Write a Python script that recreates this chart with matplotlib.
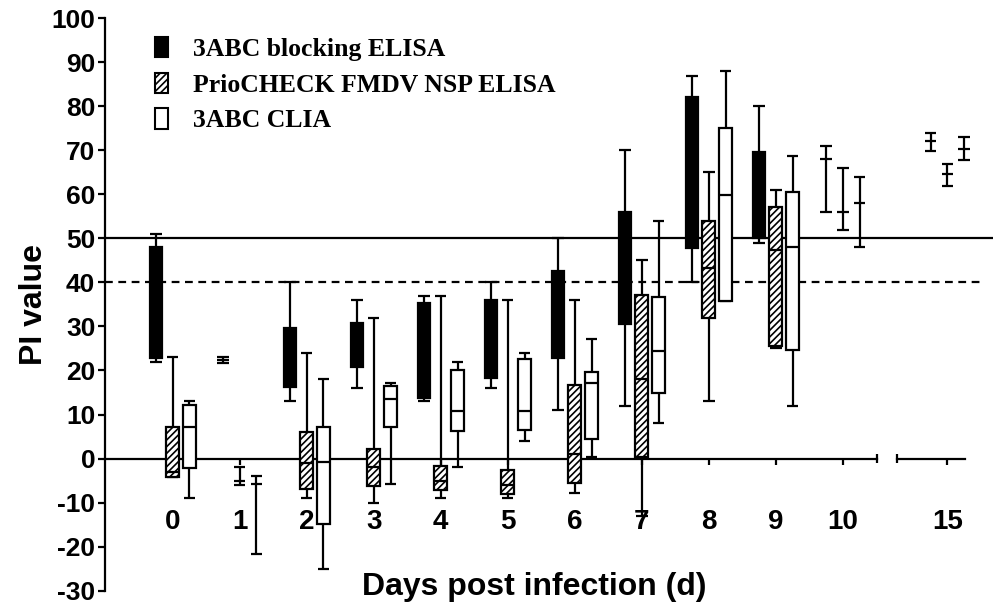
import numpy as np
import matplotlib
matplotlib.use("Agg")
import matplotlib.pyplot as plt
from matplotlib.patches import Patch

nan = np.nan

# days after infection, 15 sits past an axis break
days = ["0", "1", "2", "3", "4", "5", "6", "7", "8", "9", "10", "15"]
xpos = [0, 1, 2, 3, 4, 5, 6, 7, 8, 9, 10, 11.56]

# 3ABC blocking ELISA
blk_lo  = [22.0, 21.8, 13.1, 16.0, 13.1, 16.0, 11.0, 12.0, 40.0, 48.9, 56.0, 69.9]
blk_q1  = [22.8, nan, 16.3, 20.9, 13.7, 18.4, 22.9, 30.5, 47.8, 50.0, nan, nan]
blk_med = [35.0, 22.4, 23.0, 26.0, 25.0, 27.0, 33.0, 43.0, 65.0, 60.0, 68.0, 72.2]
blk_q3  = [48.1, nan, 29.7, 30.7, 35.4, 36.0, 42.6, 56.1, 82.1, 69.6, nan, nan]
blk_hi  = [51.0, 23.0, 40.0, 36.0, 37.0, 40.2, 50.0, 70.0, 87.0, 80.0, 71.0, 73.9]

# PrioCHECK FMDV NSP ELISA
pri_lo  = [-4.1, -6.1, -8.9, -10.0, -8.9, -8.9, -7.9, -13.0, 13.1, 25.0, 51.9, 61.9]
pri_q1  = [-4.1, nan, -7.0, -6.3, -7.2, -8.1, -5.5, 0.4, 31.9, 25.6, nan, nan]
pri_med = [-3.0, -5.2, -1.0, -2.0, -5.0, -6.0, 1.0, 18.1, 43.2, 47.4, 56.0, 64.6]
pri_q3  = [7.2, nan, 6.1, 2.2, -1.6, -2.5, 16.7, 37.2, 54.0, 57.2, nan, nan]
pri_hi  = [23.1, -1.9, 24.0, 32.0, 37.0, 36.0, 36.0, 45.1, 65.0, 61.0, 66.0, 66.9]

# 3ABC CLIA
cl_lo  = [-8.9, -21.8, -25.0, -5.9, -1.9, 4.0, 0.3, 8.0, 35.9, 12.0, 48.1, 67.8]
cl_q1  = [-2.1, nan, -14.9, 7.2, 6.2, 6.5, 4.4, 14.8, 35.9, 24.7, nan, nan]
cl_med = [7.1, -5.9, -0.7, 13.5, 10.9, 10.9, 17.1, 24.4, 59.9, 48.1, 58.0, 70.3]
cl_q3  = [12.2, nan, 7.1, 16.5, 20.1, 22.5, 19.6, 36.6, 75.0, 60.6, nan, nan]
cl_hi  = [13.1, -4.0, 18.0, 17.1, 22.0, 24.0, 27.1, 54.0, 88.0, 68.8, 63.9, 73.0]

labels = ["3ABC blocking ELISA", "PrioCHECK FMDV NSP ELISA", "3ABC CLIA"]
cutoff_3abc = 50
cutoff_prio = 40

plt.rcParams['font.family'] = ['Liberation Sans', 'DejaVu Sans']
plt.rcParams['font.weight'] = 'bold'
plt.rcParams['axes.unicode_minus'] = False
plt.rcParams['hatch.linewidth'] = 1.2

fig = plt.figure(figsize=(10, 6.12), dpi=100)
ax = fig.add_axes([0.105, 0.035, 0.888, 0.935])
ax.set_xlim(-1.01, 12.24)
ax.set_ylim(-30, 100)

LW = 1.6
W = 0.19
CAP = 0.17


def draw(off, lo, q1, med, q3, hi, face, hatch):
    for i, x0 in enumerate(xpos):
        x = x0 + off
        ax.vlines(x, lo[i], hi[i], color='black', lw=LW, zorder=2)
        ax.hlines([lo[i], hi[i]], x - CAP / 2, x + CAP / 2, color='black', lw=LW, zorder=2)
        if np.isnan(q1[i]):
            ax.hlines(med[i], x - CAP / 2, x + CAP / 2, color='black', lw=LW, zorder=2)
        else:
            ax.bar(x, q3[i] - q1[i], bottom=q1[i], width=W, color=face,
                   edgecolor='black', lw=LW, hatch=hatch, zorder=3)
            ax.hlines(med[i], x - W / 2, x + W / 2, color='black', lw=LW, zorder=4)


draw(-0.25, blk_lo, blk_q1, blk_med, blk_q3, blk_hi, 'black', None)
draw(0.0, pri_lo, pri_q1, pri_med, pri_q3, pri_hi, 'white', '/////')
draw(0.25, cl_lo, cl_q1, cl_med, cl_q3, cl_hi, 'white', None)

# cut-off lines
ax.axhline(cutoff_3abc, color='black', lw=1.6, zorder=1)
ax.plot([-1.01, 12.12], [cutoff_prio, cutoff_prio], color='black', lw=1.6,
        ls=(0, (3.5, 2.5)), zorder=1, clip_on=False)

# broken x axis at y = 0
brk1, brk2, xend = 10.51, 10.81, 11.82
ax.plot([-1.01, brk1], [0, 0], color='black', lw=1.6, zorder=1, clip_on=False)
ax.plot([brk2, xend], [0, 0], color='black', lw=1.6, zorder=1)
ax.vlines([brk1, brk2], -1.0, 1.0, color='black', lw=1.6)

for s in ['top', 'right']:
    ax.spines[s].set_visible(False)
ax.spines['left'].set_linewidth(1.6)
ax.spines['bottom'].set_position(('data', 0))
ax.spines['bottom'].set_visible(False)

ax.set_yticks(np.arange(-30, 101, 10))
ax.tick_params(axis='y', labelsize=19, width=1.6, length=5, pad=2)
ax.set_xticks(xpos)
ax.set_xticklabels(days)
ax.tick_params(axis='x', labelsize=20, width=1.6, length=4, pad=32)

ax.set_ylabel("PI value", fontsize=23, fontweight='bold', labelpad=2)
ax.text(5.39, -31.0, "Days post infection (d)", fontsize=23, fontweight='bold',
        ha='center', va='baseline', clip_on=False)

handles = [Patch(facecolor='black', edgecolor='black', lw=1.5),
           Patch(facecolor='white', edgecolor='black', lw=1.5, hatch='/////'),
           Patch(facecolor='white', edgecolor='black', lw=1.5)]
ax.legend(handles, labels, loc='upper left', bbox_to_anchor=(0.03, 1.008),
          frameon=False, handlelength=0.5, handleheight=0.85, handletextpad=1.0,
          labelspacing=0.45,
          prop={'family': 'Liberation Serif', 'weight': 'bold', 'size': 18.5})

fig.savefig("out.png", dpi=100, facecolor='white')
